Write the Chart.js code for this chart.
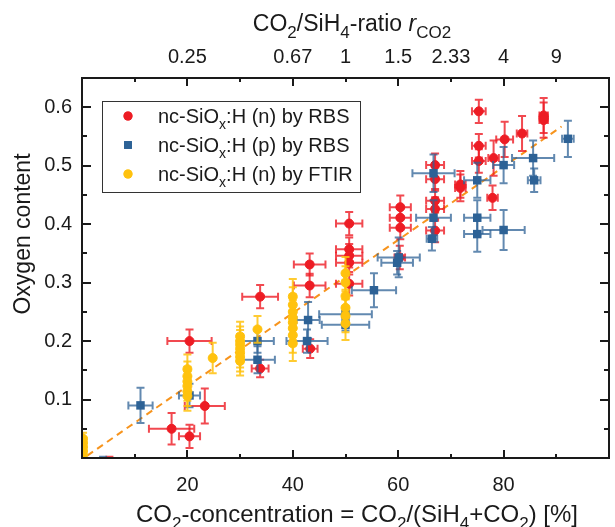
<!DOCTYPE html>
<html>
<head>
<meta charset="utf-8">
<script src="https://cdn.jsdelivr.net/npm/chart.js@4.4.1/dist/chart.umd.min.js"></script>
<style>
  html, body { margin: 0; padding: 0; background: #fff; }
</style>
</head>
<body>
<canvas id="chart" width="615" height="527"></canvas>
<script>
// nc-SiOx:H (n) by RBS
const rbsNx    = [17.0, 20.4, 23.3, 20.4, 33.8, 33.8, 43.2, 43.2, 43.3, 50.7, 50.7, 50.7, 50.7, 50.7, 60.4, 60.4, 60.4, 60.3, 67.0, 67.0, 67.0, 67.0, 67.0, 71.8, 71.8, 75.3, 75.3, 75.3, 77.9, 78.1, 80.2, 83.5, 87.6, 87.6, 5.2];
const rbsNy    = [0.050, 0.037, 0.089, 0.200, 0.276, 0.153, 0.331, 0.295, 0.187, 0.401, 0.357, 0.346, 0.334, 0.298, 0.429, 0.411, 0.394, 0.343, 0.501, 0.477, 0.440, 0.426, 0.389, 0.468, 0.462, 0.593, 0.534, 0.508, 0.445, 0.513, 0.545, 0.555, 0.586, 0.578, -0.020];
const rbsNxErr = [4.3, 2.0, 3.8, 4.2, 3.4, 1.6, 3.0, 3.0, 1.4, 2.5, 2.5, 2.5, 2.5, 2.5, 2.0, 2.0, 2.0, 1.0, 1.7, 1.7, 1.7, 1.7, 1.7, 1.0, 1.0, 1.3, 1.3, 1.3, 1.0, 1.0, 1.6, 1.0, 0.8, 0.8, 0.5];
const rbsNyErr = [0.027, 0.020, 0.030, 0.020, 0.020, 0.015, 0.019, 0.020, 0.016, 0.020, 0.020, 0.020, 0.020, 0.020, 0.020, 0.020, 0.020, 0.020, 0.020, 0.020, 0.020, 0.020, 0.020, 0.023, 0.023, 0.020, 0.020, 0.020, 0.021, 0.030, 0.030, 0.030, 0.030, 0.030, 0.022];

// nc-SiOx:H (p) by RBS
const rbsPx    = [11.1, 20.4, 33.3, 33.3, 42.9, 42.7, 50.0, 50.0, 55.4, 60.1, 59.8, 66.7, 66.7, 66.4, 75.0, 75.0, 75.0, 80.0, 80.0, 85.6, 85.8, 92.2, 4.0];
const rbsPy    = [0.090, 0.107, 0.200, 0.168, 0.236, 0.200, 0.246, 0.228, 0.287, 0.343, 0.334, 0.487, 0.411, 0.375, 0.475, 0.411, 0.383, 0.501, 0.390, 0.513, 0.475, 0.546, -0.020];
const rbsPxErr = [2.3, 2.0, 3.1, 3.3, 2.2, 3.9, 5.0, 4.5, 4.2, 4.0, 3.0, 4.0, 3.3, 1.0, 2.5, 2.5, 2.5, 2.0, 4.0, 4.0, 1.2, 1.1, 0.5];
const rbsPyErr = [0.030, 0.020, 0.020, 0.023, 0.031, 0.020, 0.010, 0.010, 0.029, 0.034, 0.020, 0.032, 0.030, 0.020, 0.030, 0.030, 0.030, 0.031, 0.034, 0.030, 0.020, 0.031, 0.022];

// nc-SiOx:H (n) by FTIR
const ftirX    = [0.2, 0.2, 0.2, 0.2, 0.2, 20, 20, 20, 20, 20, 20, 24.8, 30, 30, 30, 30, 30, 30, 30, 33.3, 40, 40, 40, 40, 40, 40, 40, 40, 50, 50, 50, 50, 50, 50];
const ftirY    = [0.005, 0.012, 0.019, 0.026, 0.033, 0.152, 0.140, 0.131, 0.123, 0.114, 0.106, 0.171, 0.208, 0.200, 0.194, 0.187, 0.180, 0.173, 0.166, 0.220, 0.276, 0.262, 0.250, 0.240, 0.232, 0.222, 0.210, 0.196, 0.316, 0.300, 0.277, 0.257, 0.243, 0.230];
const ftirYErr = [0.010, 0.010, 0.010, 0.010, 0.010, 0.025, 0.025, 0.025, 0.025, 0.025, 0.025, 0.026, 0.025, 0.025, 0.025, 0.025, 0.025, 0.025, 0.025, 0.023, 0.030, 0.030, 0.030, 0.030, 0.030, 0.030, 0.030, 0.030, 0.028, 0.028, 0.028, 0.028, 0.028, 0.028];

// dashed guide line
const trendX = [1, 91];
const trendY = [0.004, 0.567];

// axes
const xMajorTicks = [20, 40, 60, 80];
const xMinorTicks = [10, 30, 50, 70, 90];
const yMajorTicks = [0.1, 0.2, 0.3, 0.4, 0.5, 0.6];
const yMinorTicks = [0.05, 0.15, 0.25, 0.35, 0.45, 0.55];
const topTickValues = [20, 40, 50, 60, 70, 80, 90];
const topTickLabels = ['0.25', '0.67', '1', '1.5', '2.33', '4', '9'];

const FONT = '"Liberation Sans", Arial, sans-serif';
const INK = '#1a1a1a';
const RED = '#ed1c24';
const BLUE = '#2d6296';
const YELLOW = '#ffc20e';

function toPoints(xs, ys) {
    return xs.map((x, i) => ({ x: x, y: ys[i] }));
}

// text with subscript / italic pieces
function drawRich(ctx, parts, x, y, size, opts) {
    opts = opts || {};
    ctx.save();
    ctx.translate(x, y);
    if (opts.rotate) ctx.rotate(-Math.PI / 2);
    const fontFor = p => (p.it ? 'italic ' : '') + (p.sub ? Math.round(size * 0.72) : size) + 'px ' + FONT;
    let w = 0;
    parts.forEach(p => { ctx.font = fontFor(p); w += ctx.measureText(p.t).width; });
    let cx = opts.left ? 0 : -w / 2;
    ctx.fillStyle = INK;
    ctx.textAlign = 'left';
    ctx.textBaseline = 'alphabetic';
    parts.forEach(p => {
        ctx.font = fontFor(p);
        ctx.fillText(p.t, cx, size * 0.36 + (p.sub ? size * 0.3 : 0));
        cx += ctx.measureText(p.t).width;
    });
    ctx.restore();
}

const errorBars = {
    id: 'errorBars',
    beforeDatasetDraw(chart, args) {
        const ds = chart.data.datasets[args.index];
        if (!ds.yErr) return;
        const xs = chart.scales.x, ys = chart.scales.y;
        const area = chart.chartArea;
        const ctx = chart.ctx;
        const cap = 4;
        ctx.save();
        ctx.beginPath();
        ctx.rect(area.left, area.top, area.right - area.left, area.bottom - area.top);
        ctx.clip();
        ctx.strokeStyle = ds.errColor;
        ctx.lineWidth = 2;
        ds.data.forEach((p, i) => {
            const px = xs.getPixelForValue(p.x);
            const py = ys.getPixelForValue(p.y);
            const dy = ds.yErr[i], dx = ds.xErr ? ds.xErr[i] : 0;
            ctx.beginPath();
            if (dy) {
                const y1 = ys.getPixelForValue(p.y + dy), y2 = ys.getPixelForValue(p.y - dy);
                ctx.moveTo(px, y1); ctx.lineTo(px, y2);
                ctx.moveTo(px - cap, y1); ctx.lineTo(px + cap, y1);
                ctx.moveTo(px - cap, y2); ctx.lineTo(px + cap, y2);
            }
            if (dx) {
                const x1 = xs.getPixelForValue(p.x - dx), x2 = xs.getPixelForValue(p.x + dx);
                ctx.moveTo(x1, py); ctx.lineTo(x2, py);
                ctx.moveTo(x1, py - cap); ctx.lineTo(x1, py + cap);
                ctx.moveTo(x2, py - cap); ctx.lineTo(x2, py + cap);
            }
            ctx.stroke();
        });
        ctx.restore();
    }
};

const frame = {
    id: 'frame',
    afterDraw(chart) {
        const ctx = chart.ctx;
        const a = chart.chartArea;
        const xs = chart.scales.x, ys = chart.scales.y;
        ctx.save();
        ctx.strokeStyle = INK;
        ctx.lineWidth = 2;
        ctx.strokeRect(a.left, a.top, a.right - a.left, a.bottom - a.top);

        ctx.beginPath();
        const xTick = (v, len) => {
            const px = Math.round(xs.getPixelForValue(v));
            ctx.moveTo(px, a.bottom); ctx.lineTo(px, a.bottom - len);
            ctx.moveTo(px, a.top); ctx.lineTo(px, a.top + len);
        };
        const yTick = (v, len) => {
            const py = Math.round(ys.getPixelForValue(v));
            ctx.moveTo(a.left, py); ctx.lineTo(a.left + len, py);
            ctx.moveTo(a.right, py); ctx.lineTo(a.right - len, py);
        };
        xMajorTicks.forEach(v => xTick(v, 8));
        xMinorTicks.forEach(v => xTick(v, 4));
        yMajorTicks.forEach(v => yTick(v, 9));
        yMinorTicks.forEach(v => yTick(v, 5));
        ctx.stroke();

        // axis titles
        drawRich(ctx, [{ t: 'CO' }, { t: '2', sub: true }, { t: '/SiH' }, { t: '4', sub: true },
            { t: '-ratio ' }, { t: 'r', it: true }, { t: 'CO2', sub: true }], 352, 23, 23);
        drawRich(ctx, [{ t: 'CO' }, { t: '2', sub: true }, { t: '-concentration = CO' }, { t: '2', sub: true },
            { t: '/(SiH' }, { t: '4', sub: true }, { t: '+CO' }, { t: '2', sub: true }, { t: ') [%]' }], 357, 513, 24);
        drawRich(ctx, [{ t: 'Oxygen content' }], 22, 234, 23, { rotate: true });

        // legend
        const lx = 102, ly = 101, lw = 258, lh = 91;
        ctx.fillStyle = '#fff';
        ctx.fillRect(lx, ly, lw, lh);
        ctx.lineWidth = 1;
        ctx.strokeStyle = '#333';
        ctx.strokeRect(lx + 0.5, ly + 0.5, lw, lh);
        const rows = [
            { color: RED, style: 'circle', r: 4.5, text: '(n) by RBS' },
            { color: BLUE, style: 'rect', r: 5.5, text: '(p) by RBS' },
            { color: YELLOW, style: 'circle', r: 4.5, text: '(n) by FTIR' }
        ];
        rows.forEach((row, i) => {
            const y = ly + 15 + i * 29;
            ctx.fillStyle = row.color;
            Chart.helpers.drawPoint(ctx, { pointStyle: row.style, radius: row.r, borderWidth: 0 }, 128, y);
            ctx.fill();
            drawRich(ctx, [{ t: 'nc-SiO' }, { t: 'x', sub: true }, { t: ':H ' + row.text }], 158, y, 20, { left: true });
        });
        ctx.restore();
    }
};

new Chart(document.getElementById('chart'), {
    type: 'scatter',
    data: {
        datasets: [
            {
                label: 'nc-SiOx:H (n) by FTIR',
                data: toPoints(ftirX, ftirY),
                yErr: ftirYErr,
                errColor: 'rgba(255,194,14,0.85)',
                backgroundColor: YELLOW,
                borderColor: YELLOW,
                pointRadius: 4.5,
                borderWidth: 1,
                clip: 0
            },
            {
                label: 'nc-SiOx:H (p) by RBS',
                data: toPoints(rbsPx, rbsPy),
                xErr: rbsPxErr,
                yErr: rbsPyErr,
                errColor: 'rgba(45,98,150,0.75)',
                backgroundColor: BLUE,
                borderColor: BLUE,
                pointStyle: 'rect',
                pointRadius: 6,
                borderWidth: 0,
                clip: 0
            },
            {
                label: 'nc-SiOx:H (n) by RBS',
                data: toPoints(rbsNx, rbsNy),
                xErr: rbsNxErr,
                yErr: rbsNyErr,
                errColor: 'rgba(237,28,36,0.8)',
                backgroundColor: RED,
                borderColor: RED,
                pointRadius: 4.5,
                borderWidth: 1,
                clip: 0
            },
            {
                label: 'trend',
                data: toPoints(trendX, trendY),
                showLine: true,
                pointRadius: 0,
                borderColor: '#f7941d',
                borderWidth: 2,
                borderDash: [7, 5],
                clip: 0
            }
        ]
    },
    options: {
        responsive: false,
        animation: false,
        layout: { padding: { left: 0, right: 1, top: 0, bottom: 0 } },
        plugins: { legend: { display: false }, tooltip: { enabled: false } },
        scales: {
            x: {
                type: 'linear', position: 'bottom', min: 0, max: 100,
                grid: { display: false, drawTicks: false }, border: { display: false },
                afterBuildTicks: s => { s.ticks = xMajorTicks.map(v => ({ value: v })); },
                afterFit: s => { s.height = 69; },
                ticks: { color: INK, font: { family: FONT, size: 20 }, padding: 15, autoSkip: false, maxRotation: 0 }
            },
            x2: {
                type: 'linear', position: 'top', min: 0, max: 100,
                grid: { display: false, drawTicks: false }, border: { display: false },
                afterBuildTicks: s => { s.ticks = topTickValues.map(v => ({ value: v })); },
                afterFit: s => { s.height = 78; },
                ticks: { color: INK, font: { family: FONT, size: 20 }, padding: 9, autoSkip: false, maxRotation: 0,
                    callback: (v, i) => topTickLabels[i] }
            },
            y: {
                type: 'linear', min: 0, max: 0.65,
                grid: { display: false, drawTicks: false }, border: { display: false },
                afterBuildTicks: s => { s.ticks = yMajorTicks.map(v => ({ value: v })); },
                afterFit: s => { s.width = 82; },
                ticks: { color: INK, font: { family: FONT, size: 20 }, padding: 10,
                    callback: v => v.toFixed(1) }
            }
        }
    },
    plugins: [errorBars, frame]
});
</script>
</body>
</html>
